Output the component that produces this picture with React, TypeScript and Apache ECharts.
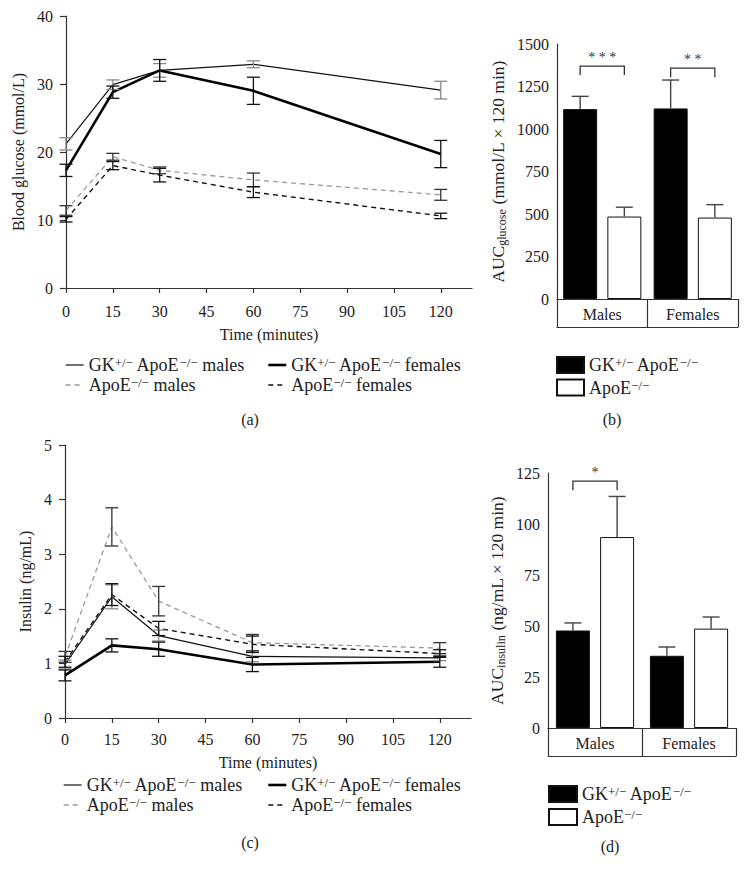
import { useEffect, useRef } from "react";
import * as echarts from "echarts";

// ---------- data ----------
const times = [0, 15, 30, 60, 120];

// (a) Blood glucose (mmol/L)
const glucGKMale = [21.2, 29.9, 32.0, 32.9, 29.1];
const glucGKMaleErr = [0.9, 0.7, 1.0, 0.5, 1.3];
const glucGKFemale = [17.3, 28.8, 32.0, 29.0, 19.7];
const glucGKFemaleErr = [0.9, 0.9, 1.6, 2.0, 2.0];
const glucApoMale = [11.4, 19.3, 17.3, 15.9, 13.7];
const glucApoMaleErr = [0.7, 0.5, 0.5, 1.0, 0.8];
const glucApoFemale = [10.1, 18.0, 16.6, 14.1, 10.6];
const glucApoFemaleErr = [0.4, 0.6, 1.0, 0.8, 0.4];

// (c) Insulin (ng/mL)
const insGKMale = [0.98, 2.22, 1.51, 1.13, 1.1];
const insGKMaleErr = [0.08, 0.22, 0.1, 0.1, 0.05];
const insGKFemale = [0.78, 1.33, 1.26, 0.98, 1.03];
const insGKFemaleErr = [0.1, 0.12, 0.13, 0.13, 0.1];
const insApoMale = [1.12, 3.5, 2.14, 1.38, 1.28];
const insApoMaleErr = [0.1, 0.35, 0.27, 0.15, 0.1];
const insApoFemale = [1.03, 2.26, 1.64, 1.35, 1.18];
const insApoFemaleErr = [0.1, 0.2, 0.13, 0.15, 0.07];

// (b), (d) AUC bars
const sexes = ["Males", "Females"];
const aucGlucGK = [1117, 1121];
const aucGlucGKErr = [75, 167];
const aucGlucApo = [485, 479];
const aucGlucApoErr = [55, 76];
const aucInsGK = [47.8, 35.4];
const aucInsGKErr = [3.7, 4.3];
const aucInsApo = [93.6, 48.7];
const aucInsApoErr = [19.9, 5.7];

// significance brackets
const sigGlucCats = [0, 1];
const sigGlucLevels = [1370, 1358];
const sigGlucStars = ["* * *", "* *"];
const sigInsCats = [0];
const sigInsLevels = [121];
const sigInsStars = ["*"];

// series names
const N_GKM = "GK+/- ApoE-/- males";
const N_GKF = "GK+/- ApoE-/- females";
const N_APM = "ApoE-/- males";
const N_APF = "ApoE-/- females";
const N_GK = "GK+/- ApoE-/-";
const N_AP = "ApoE-/-";

const labelRich: Record<string, string> = {
  [N_GKM]: "GK{sup|+/\u2212} ApoE{sup|\u2212/\u2212} males",
  [N_GKF]: "GK{sup|+/\u2212} ApoE{sup|\u2212/\u2212} females",
  [N_APM]: "ApoE{sup|\u2212/\u2212} males",
  [N_APF]: "ApoE{sup|\u2212/\u2212} females",
  [N_GK]: "GK{sup|+/\u2212} ApoE{sup|\u2212/\u2212}",
  [N_AP]: "ApoE{sup|\u2212/\u2212}",
};

const lineWidths: Record<string, number> = { [N_GKM]: 1.2, [N_GKF]: 2.6, [N_APM]: 1.3, [N_APF]: 1.4 };

const FONT = '"Liberation Serif", "DejaVu Serif", serif';
const TXT = "#222";
const AX = "#333";
const BAR_W = 34;
const BAR_GAP = 0.3;

function lineAxisX(gridIndex: number, margin: number, gap: number) {
  return {
    type: "value",
    gridIndex,
    min: 0,
    max: 130,
    interval: 15,
    name: "Time (minutes)",
    nameLocation: "middle",
    nameGap: gap,
    nameTextStyle: { fontFamily: FONT, fontSize: 16, color: TXT },
    axisLine: { show: true, lineStyle: { color: AX, width: 1.2 } },
    axisTick: { show: true, length: 5, lineStyle: { color: AX, width: 1.2 } },
    axisLabel: { fontFamily: FONT, fontSize: 16, color: TXT, margin, showMaxLabel: false },
    splitLine: { show: false },
  };
}

function lineAxisY(gridIndex: number, max: number, interval: number, name: string, gap: number) {
  return {
    type: "value",
    gridIndex,
    min: 0,
    max,
    interval,
    name,
    nameLocation: "middle",
    nameGap: gap,
    nameTextStyle: { fontFamily: FONT, fontSize: 16, color: TXT },
    axisLine: { show: true, lineStyle: { color: AX, width: 1.2 } },
    axisTick: { show: true, length: 6, lineStyle: { color: AX, width: 1.2 } },
    axisLabel: { fontFamily: FONT, fontSize: 16, color: TXT, margin: 13 },
    splitLine: { show: false },
  };
}

function barAxisX(gridIndex: number) {
  return [
    {
      type: "category",
      gridIndex,
      data: sexes,
      axisLine: { show: true, lineStyle: { color: AX, width: 1.2 } },
      axisTick: { show: true, length: 28, alignWithLabel: false, lineStyle: { color: AX, width: 1.2 } },
      axisLabel: { fontFamily: FONT, fontSize: 16, color: TXT, margin: 7 },
    },
    {
      type: "category",
      gridIndex,
      data: sexes,
      position: "bottom",
      offset: 28,
      axisLine: { show: true, lineStyle: { color: AX, width: 1.2 } },
      axisTick: { show: false },
      axisLabel: { show: false },
    },
  ];
}

function barAxisY(gridIndex: number, max: number, interval: number, name: string, gap: number) {
  return {
    type: "value",
    gridIndex,
    min: 0,
    max,
    interval,
    name,
    nameLocation: "middle",
    nameGap: gap,
    nameTextStyle: {
      fontFamily: FONT,
      fontSize: 17.5,
      color: TXT,
      lineHeight: 20,
      rich: {
        s: { fontFamily: FONT, fontSize: 12, color: TXT, lineHeight: 4, verticalAlign: "bottom" },
      },
    },
    axisLine: { show: true, lineStyle: { color: AX, width: 1.2 } },
    axisTick: { show: false },
    axisLabel: { fontFamily: FONT, fontSize: 16, color: TXT, margin: 8, formatter: (v: number) => String(v) },
    splitLine: { show: false },
  };
}

function lineSeries(name: string, xi: number, yi: number, vals: number[], color: string, dashed: boolean) {
  return {
    type: "line",
    name,
    xAxisIndex: xi,
    yAxisIndex: yi,
    data: times.map((t, i) => [t, vals[i]]),
    symbol: "none",
    silent: true,
    z: 3,
    lineStyle: { color, width: lineWidths[name], type: dashed ? [5, 4] : "solid" },
    itemStyle: { color },
  };
}

function errSeries(xi: number, yi: number, means: number[], errs: number[], color: string) {
  return {
    type: "custom",
    xAxisIndex: xi,
    yAxisIndex: yi,
    silent: true,
    z: 4,
    itemStyle: { color },
    data: times.map((t, i) => [t, means[i] - errs[i], means[i] + errs[i]]),
    encode: { x: 0, y: [1, 2] },
    renderItem: (_p: any, api: any) => {
      const x = api.value(0);
      const lo = api.coord([x, api.value(1)]);
      const hi = api.coord([x, api.value(2)]);
      const w = 6.5;
      const st = { stroke: color, lineWidth: 1.3 };
      return {
        type: "group",
        children: [
          { type: "line", shape: { x1: lo[0], y1: lo[1], x2: hi[0], y2: hi[1] }, style: st },
          { type: "line", shape: { x1: lo[0] - w, y1: lo[1], x2: lo[0] + w, y2: lo[1] }, style: st },
          { type: "line", shape: { x1: hi[0] - w, y1: hi[1], x2: hi[0] + w, y2: hi[1] }, style: st },
        ],
      };
    },
  };
}

function barSeries(name: string, xi: number, yi: number, vals: number[], fill: string) {
  return {
    type: "bar",
    name,
    xAxisIndex: xi,
    yAxisIndex: yi,
    data: vals,
    barWidth: BAR_W,
    barGap: BAR_GAP * 100 + "%",
    silent: true,
    z: 2,
    itemStyle: { color: fill, borderColor: "#111", borderWidth: 1 },
  };
}

function barErr(xi: number, yi: number, means: number[], errs: number[], side: number) {
  return {
    type: "custom",
    xAxisIndex: xi,
    yAxisIndex: yi,
    silent: true,
    z: 4,
    itemStyle: { color: "#444" },
    data: means.map((m, i) => [i, m, m + errs[i]]),
    encode: { x: 0, y: [1, 2] },
    renderItem: (_p: any, api: any) => {
      const i = api.value(0);
      const a = api.coord([i, api.value(1)]);
      const b = api.coord([i, api.value(2)]);
      const x = a[0] + (side * BAR_W * (1 + BAR_GAP)) / 2;
      const w = 8.5;
      const st = { stroke: "#444", lineWidth: 1.4 };
      return {
        type: "group",
        children: [
          { type: "line", shape: { x1: x, y1: a[1], x2: x, y2: b[1] }, style: st },
          { type: "line", shape: { x1: x - w, y1: b[1], x2: x + w, y2: b[1] }, style: st },
        ],
      };
    },
  };
}

function bracketSeries(xi: number, yi: number, cats: number[], levels: number[]) {
  return {
    type: "custom",
    xAxisIndex: xi,
    yAxisIndex: yi,
    silent: true,
    z: 5,
    itemStyle: { color: "#333" },
    data: cats.map((c, i) => [c, levels[i]]),
    encode: { x: 0, y: 1 },
    renderItem: (_p: any, api: any) => {
      const c = api.coord([api.value(0), api.value(1)]);
      const off = (BAR_W * (1 + BAR_GAP)) / 2;
      const x1 = c[0] - off;
      const x2 = c[0] + off;
      const y = c[1];
      return {
        type: "polyline",
        shape: { points: [[x1, y + 9], [x1, y], [x2, y], [x2, y + 9]] },
        style: { stroke: "#333", lineWidth: 1.3, fill: null },
      };
    },
  };
}

function starsSeries(xi: number, yi: number, cats: number[], levels: number[], stars: string[]) {
  return {
    type: "scatter",
    xAxisIndex: xi,
    yAxisIndex: yi,
    silent: true,
    z: 6,
    symbolSize: 1,
    itemStyle: { color: "rgba(0,0,0,0)" },
    data: cats.map((c, i) => ({ value: [c, levels[i]], label: { formatter: stars[i] } })),
    label: {
      show: true,
      position: "top",
      distance: 1,
      color: "#333",
      opacity: 1,
      fontFamily: FONT,
      fontSize: 14,
    },
  };
}

const legendText = {
  fontFamily: FONT,
  fontSize: 18,
  color: TXT,
  lineHeight: 18,
  rich: {
    sup: { fontFamily: FONT, fontSize: 13, color: TXT, lineHeight: 8, verticalAlign: "top" },
  },
};

function lineLegend(names: string[], left: number, top: number) {
  return {
    orient: "vertical",
    left,
    top,
    padding: 0,
    itemGap: 2,
    itemWidth: 18,
    itemHeight: 14,
    selectedMode: false,
    data: names.map((n) => ({ name: n, lineStyle: { width: lineWidths[n] } })),
    formatter: (n: string) => labelRich[n] || n,
    textStyle: legendText,
    itemStyle: { opacity: 0 },
  };
}

function barLegend(left: number, top: number, w: number, gap: number) {
  return {
    orient: "vertical",
    left,
    top,
    padding: 0,
    itemGap: gap,
    itemWidth: w,
    itemHeight: 16,
    icon: "rect",
    selectedMode: false,
    data: [N_GK, N_AP],
    formatter: (n: string) => labelRich[n] || n,
    textStyle: legendText,
  };
}

function panelLabel(text: string, x: number, y: number) {
  return {
    type: "text",
    x,
    y,
    silent: true,
    style: { text, font: `16px ${FONT}`, fill: TXT, align: "center", verticalAlign: "middle" },
  };
}

export default function App() {
  const ref = useRef<HTMLDivElement>(null);
  useEffect(() => {
    document.body.style.margin = "0";
    if (!ref.current) return;
    const chart = echarts.init(ref.current, undefined, { renderer: "svg" });
    const option: any = {
      animation: false,
      backgroundColor: "#fff",
      grid: [
        { left: 66, top: 16, width: 406, height: 272 },
        { left: 557, top: 44, width: 181, height: 255 },
        { left: 65, top: 445, width: 406, height: 273 },
        { left: 548, top: 473, width: 188, height: 255 },
      ],
      xAxis: [lineAxisX(0, 15, 38), ...barAxisX(1), lineAxisX(2, 13, 36), ...barAxisX(3)],
      yAxis: [
        lineAxisY(0, 40, 10, "Blood glucose (mmol/L)", 33),
        barAxisY(1, 1500, 250, "AUC{s|glucose} (mmol/L \u00d7 120 min)", 49),
        lineAxisY(2, 5, 1, "Insulin (ng/mL)", 32),
        barAxisY(3, 125, 25, "AUC{s|insulin} (ng/mL \u00d7 120 min)", 41),
      ],
      legend: [
        lineLegend([N_GKM, N_APM], 65, 356),
        lineLegend([N_GKF, N_APF], 267, 356),
        barLegend(556, 356, 27, 4.5),
        lineLegend([N_GKM, N_APM], 63, 776),
        lineLegend([N_GKF, N_APF], 267, 776),
        barLegend(548, 785, 28, 5),
      ],
      graphic: [
        panelLabel("(a)", 250, 419),
        panelLabel("(b)", 612, 419),
        panelLabel("(c)", 250, 842),
        panelLabel("(d)", 610, 846),
      ],
      series: [
        // (a)
        lineSeries(N_GKM, 0, 0, glucGKMale, "#111", false),
        lineSeries(N_GKF, 0, 0, glucGKFemale, "#000", false),
        lineSeries(N_APM, 0, 0, glucApoMale, "#9a9a9a", true),
        lineSeries(N_APF, 0, 0, glucApoFemale, "#111", true),
        errSeries(0, 0, glucGKMale, glucGKMaleErr, "#888"),
        errSeries(0, 0, glucGKFemale, glucGKFemaleErr, "#111"),
        errSeries(0, 0, glucApoMale, glucApoMaleErr, "#333"),
        errSeries(0, 0, glucApoFemale, glucApoFemaleErr, "#111"),
        // (b)
        barSeries(N_GK, 1, 1, aucGlucGK, "#000"),
        barSeries(N_AP, 1, 1, aucGlucApo, "#fff"),
        barErr(1, 1, aucGlucGK, aucGlucGKErr, -1),
        barErr(1, 1, aucGlucApo, aucGlucApoErr, 1),
        bracketSeries(1, 1, sigGlucCats, sigGlucLevels),
        starsSeries(1, 1, sigGlucCats, sigGlucLevels, sigGlucStars),
        // (c)
        lineSeries(N_GKM, 3, 2, insGKMale, "#111", false),
        lineSeries(N_GKF, 3, 2, insGKFemale, "#000", false),
        lineSeries(N_APM, 3, 2, insApoMale, "#9a9a9a", true),
        lineSeries(N_APF, 3, 2, insApoFemale, "#111", true),
        errSeries(3, 2, insGKMale, insGKMaleErr, "#888"),
        errSeries(3, 2, insGKFemale, insGKFemaleErr, "#111"),
        errSeries(3, 2, insApoMale, insApoMaleErr, "#333"),
        errSeries(3, 2, insApoFemale, insApoFemaleErr, "#111"),
        // (d)
        barSeries(N_GK, 4, 3, aucInsGK, "#000"),
        barSeries(N_AP, 4, 3, aucInsApo, "#fff"),
        barErr(4, 3, aucInsGK, aucInsGKErr, -1),
        barErr(4, 3, aucInsApo, aucInsApoErr, 1),
        bracketSeries(4, 3, sigInsCats, sigInsLevels),
        starsSeries(4, 3, sigInsCats, sigInsLevels, sigInsStars),
      ],
    };
    chart.setOption(option);
    return () => chart.dispose();
  }, []);
  return (
    <div
      ref={ref}
      style={{ position: "absolute", left: 0, top: 0, width: 750, height: 879, background: "#fff" }}
    />
  );
}
